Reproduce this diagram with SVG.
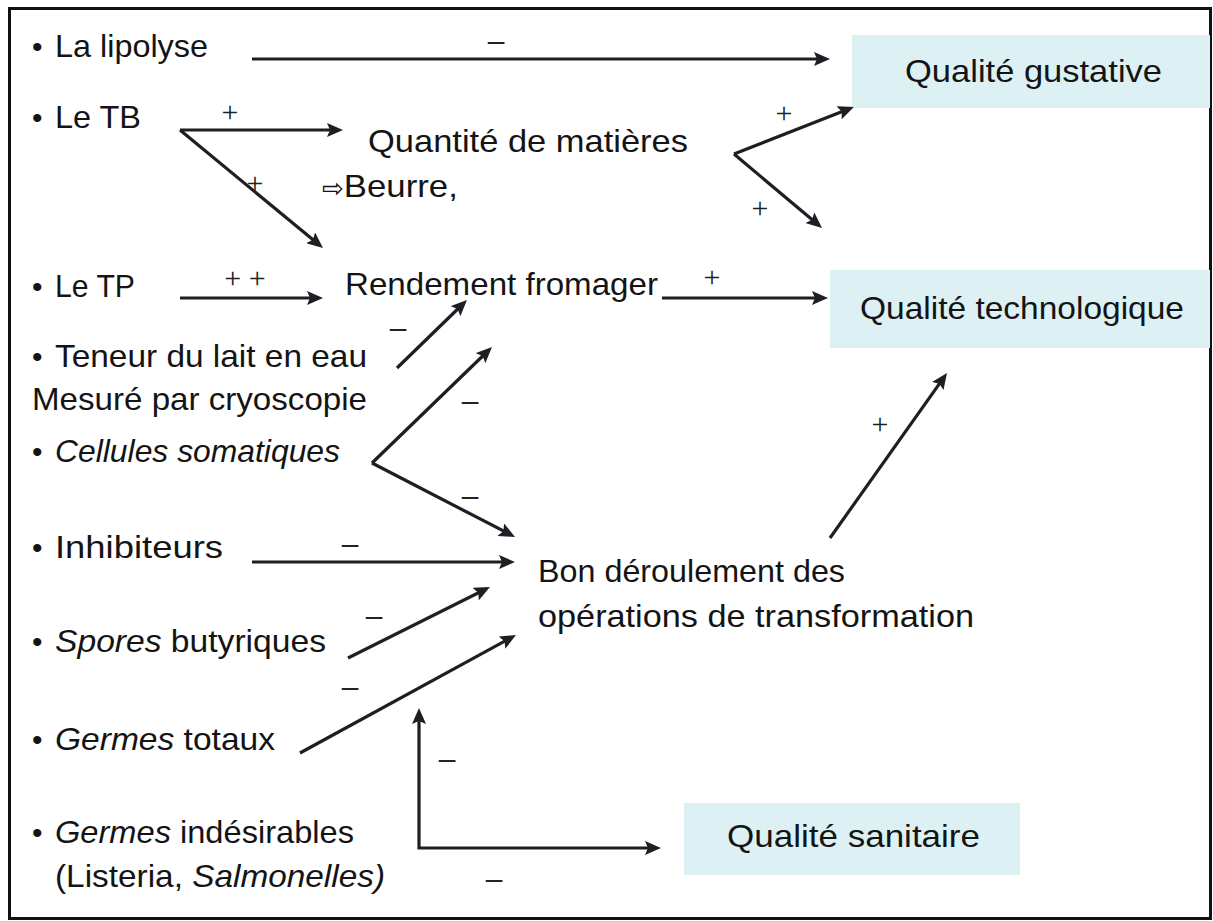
<svg xmlns="http://www.w3.org/2000/svg" width="1213" height="921" viewBox="0 0 1213 921">
<style>
.t{font-family:"Liberation Sans",Arial,sans-serif;font-size:32px;fill:#141414}
.b{font-family:"Liberation Sans",Arial,sans-serif;font-size:30px;fill:#141414}
.i{font-style:italic}
.pm{font-family:"Liberation Serif","Times New Roman",serif;font-size:30px;fill:#222;text-anchor:middle}
.mn{font-family:"Liberation Sans",Arial,sans-serif;font-size:30px;fill:#222;text-anchor:middle}
.box{fill:#DDF1F5}
.c{fill:none;stroke:#1e1e24;stroke-width:3.2}
</style>
<defs>
<marker id="ah" viewBox="0 0 16 14" markerUnits="userSpaceOnUse" markerWidth="16" markerHeight="14" refX="11" refY="7" orient="auto-start-reverse">
<path d="M0,0 L16,7 L0,14 L3,7 z" fill="#1e1e24"/>
</marker>
</defs>
<rect x="0" y="0" width="1213" height="921" fill="#fff"/>
<rect x="9.5" y="8.5" width="1201" height="910" fill="none" stroke="#111" stroke-width="3"/>

<g id="q-gustative"><rect class="box" x="852" y="35" width="358" height="73"/><text class="t" x="905" y="82" textLength="257" lengthAdjust="spacingAndGlyphs">Qualité gustative</text></g>
<g id="q-techno"><rect class="box" x="830" y="270" width="380" height="78"/><text class="t" x="860" y="319" textLength="324" lengthAdjust="spacingAndGlyphs">Qualité technologique</text></g>
<g id="q-sanitaire"><rect class="box" x="684" y="803" width="336" height="72"/><text class="t" x="727" y="847" textLength="253" lengthAdjust="spacingAndGlyphs">Qualité sanitaire</text></g>

<g id="lipolyse"><text class="b" x="32" y="57">•</text><text class="t" x="55" y="57" textLength="153" lengthAdjust="spacingAndGlyphs">La lipolyse</text></g>
<g id="tb"><text class="b" x="32" y="128">•</text><text class="t" x="55" y="128" textLength="86" lengthAdjust="spacingAndGlyphs">Le TB</text></g>
<g id="quantite"><text class="t" x="368" y="152" textLength="320" lengthAdjust="spacingAndGlyphs">Quantité de matières</text></g>
<g id="beurre"><text class="t" x="322" y="197"><tspan style="font-family:'DejaVu Sans',sans-serif;font-size:26px">⇨</tspan><tspan textLength="114" lengthAdjust="spacingAndGlyphs">Beurre,</tspan></text></g>
<g id="tp"><text class="b" x="32" y="297">•</text><text class="t" x="55" y="297" textLength="80" lengthAdjust="spacingAndGlyphs">Le TP</text></g>
<g id="rendement"><text class="t" x="345" y="295" textLength="313" lengthAdjust="spacingAndGlyphs">Rendement fromager</text></g>
<g id="teneur"><text class="b" x="32" y="367">•</text><text class="t" x="55" y="367" textLength="312" lengthAdjust="spacingAndGlyphs">Teneur du lait en eau</text><text class="t" x="32" y="410" textLength="335" lengthAdjust="spacingAndGlyphs">Mesuré par cryoscopie</text></g>
<g id="cellules"><text class="b" x="32" y="462">•</text><text class="t i" x="55" y="462" textLength="285" lengthAdjust="spacingAndGlyphs">Cellules somatiques</text></g>
<g id="inhibiteurs"><text class="b" x="32" y="558">•</text><text class="t" x="55" y="558" textLength="168" lengthAdjust="spacingAndGlyphs">Inhibiteurs</text></g>
<g id="bon"><text class="t" x="538" y="582" textLength="307" lengthAdjust="spacingAndGlyphs">Bon déroulement des</text><text class="t" x="538" y="627" textLength="436" lengthAdjust="spacingAndGlyphs">opérations de transformation</text></g>
<g id="spores"><text class="b" x="32" y="652">•</text><text class="t" x="55" y="652" textLength="271" lengthAdjust="spacingAndGlyphs"><tspan class="i">Spores</tspan> butyriques</text></g>
<g id="germes-totaux"><text class="b" x="32" y="750">•</text><text class="t" x="55" y="750" textLength="220" lengthAdjust="spacingAndGlyphs"><tspan class="i">Germes</tspan> totaux</text></g>
<g id="germes-indesirables"><text class="b" x="32" y="843">•</text><text class="t" x="55" y="843" textLength="299" lengthAdjust="spacingAndGlyphs"><tspan class="i">Germes</tspan> indésirables</text><text class="t" x="55" y="887" textLength="330" lengthAdjust="spacingAndGlyphs">(Listeria, <tspan class="i">Salmonelles)</tspan></text></g>

<g id="connectors">
<g marker-end="url(#ah)">
<line class="c" x1="252" y1="59" x2="825" y2="59"/>
<line class="c" x1="180" y1="130" x2="338" y2="130"/>
<line class="c" x1="180" y1="130" x2="319.1" y2="244.8"/>
<line class="c" x1="734" y1="154" x2="849.3" y2="108.8"/>
<line class="c" x1="734" y1="154" x2="818.2" y2="224.8"/>
<line class="c" x1="180" y1="298" x2="318" y2="298"/>
<line class="c" x1="662" y1="298" x2="823" y2="298"/>
<line class="c" x1="397" y1="368" x2="463.4" y2="303.5"/>
<line class="c" x1="372" y1="463" x2="488.4" y2="350.5"/>
<line class="c" x1="372" y1="463" x2="510.6" y2="534.7"/>
<line class="c" x1="252" y1="562" x2="510" y2="562"/>
<line class="c" x1="348" y1="658" x2="485.5" y2="589.2"/>
<line class="c" x1="300" y1="753" x2="511.6" y2="637.4"/>
<line class="c" x1="830" y1="538" x2="944.1" y2="377.1"/>
</g>
<path class="c" d="M419,713 L419,848 L656,848" marker-start="url(#ah)" marker-end="url(#ah)"/>
<text class="mn" x="496" y="51">–</text>
<text class="pm" x="230" y="122">+</text>
<text class="pm" x="255" y="193">+</text>
<text class="pm" x="245" y="288">+ +</text>
<text class="pm" x="784" y="123">+</text>
<text class="pm" x="760" y="218">+</text>
<text class="pm" x="712" y="287">+</text>
<text class="mn" x="398" y="338">–</text>
<text class="mn" x="470" y="411">–</text>
<text class="mn" x="470" y="506">–</text>
<text class="mn" x="350" y="554">–</text>
<text class="mn" x="374" y="626">–</text>
<text class="mn" x="350" y="697">–</text>
<text class="mn" x="447" y="769">–</text>
<text class="mn" x="494" y="889">–</text>
<text class="pm" x="880" y="434">+</text>
</g>
</svg>
